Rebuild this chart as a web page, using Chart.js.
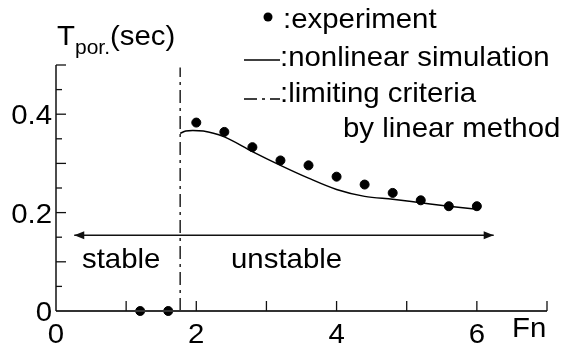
<!DOCTYPE html>
<html>
<head>
<meta charset="utf-8">
<script src="https://cdn.jsdelivr.net/npm/chart.js@4"></script>
<style>
  html, body { margin: 0; padding: 0; background: #fff; }
  #wrap { width: 562px; height: 354px; }
</style>
</head>
<body>
<div id="wrap"><canvas id="chart"></canvas></div>
<script>
// experiment points (Fn, T)
const expFn = [1.2, 1.6, 2.0, 2.4, 2.8, 3.2, 3.6, 4.0, 4.4, 4.8, 5.2, 5.6, 6.0];
const expT = [0, 0, 0.383, 0.364, 0.333, 0.306, 0.296, 0.273, 0.257, 0.240, 0.225, 0.213, 0.213];

// nonlinear simulation curve
const simFn = [1.77, 1.85, 1.95, 2.1, 2.4, 2.8, 3.2, 3.6, 4.0, 4.4, 4.8, 5.2, 5.6, 6.0];
const simT = [0.361, 0.366, 0.367, 0.366, 0.354, 0.324, 0.296, 0.270, 0.247, 0.233, 0.227, 0.220, 0.213, 0.207];

// limiting criteria by linear method
const critFn = [1.77, 1.77];
const critT = [0, 0.495];

// stable / unstable arrow
const arrowFn = [0.26, 6.24];
const arrowT = [0.154, 0.154];

const xTicks = [0, 2, 4, 6];
const xTickLabels = ['0', '2', '4', '6'];
const yTicks = [0, 0.2, 0.4];
const yTickLabels = ['0', '0.2', '0.4'];

const FONT = '"Liberation Sans", Arial, sans-serif';
const SX = 1.05; // the reference text is a bit wide

function pts(xs, ys) {
    let out = [];
    for (let i = 0; i < xs.length; i++) out.push({ x: xs[i], y: ys[i] });
    return out;
}

function txt(ctx, s, x, y, size, align) {
    ctx.save();
    ctx.font = size + 'px ' + FONT;
    let w = ctx.measureText(s).width * SX;
    let x0 = x;
    if (align === 'right') x0 = x - w;
    if (align === 'center') x0 = x - w / 2;
    ctx.translate(x0, y);
    ctx.scale(SX, 1);
    ctx.textAlign = 'left';
    ctx.textBaseline = 'alphabetic';
    ctx.fillStyle = '#000';
    ctx.fillText(s, 0, 0);
    ctx.restore();
    return w;
}

const decor = {
    id: 'decor',
    afterDatasetsDraw(chart) {
        const ctx = chart.ctx;
        const xs = chart.scales.x, ys = chart.scales.y;
        const x0 = xs.getPixelForValue(0), x1 = xs.getPixelForValue(7);
        const y0 = ys.getPixelForValue(0), y1 = ys.getPixelForValue(0.5);
        ctx.save();
        ctx.strokeStyle = '#333';
        ctx.lineWidth = 2;
        ctx.beginPath();
        ctx.moveTo(x0, y0); ctx.lineTo(x1, y0);
        ctx.stroke();
        ctx.lineWidth = 1.5;
        ctx.strokeStyle = '#111';
        ctx.beginPath();
        ctx.moveTo(x0, y0); ctx.lineTo(x0, y1);
        ctx.stroke();
        // x ticks, pointing up
        ctx.lineWidth = 1.3;
        for (let v = 1; v <= 7; v++) {
            let px = xs.getPixelForValue(v);
            ctx.beginPath();
            ctx.moveTo(px, y0); ctx.lineTo(px, y0 - 10);
            ctx.stroke();
        }
        // y ticks, pointing right
        for (let k = 1; k <= 10; k++) {
            let v = k * 0.05;
            let py = ys.getPixelForValue(v);
            let len = (k % 2 === 0) ? 10 : 6;
            ctx.beginPath();
            ctx.moveTo(x0, py); ctx.lineTo(x0 + len, py);
            ctx.stroke();
        }
        // arrow heads
        ctx.fillStyle = '#111';
        let ay = ys.getPixelForValue(arrowT[0]);
        let al = xs.getPixelForValue(arrowFn[0]);
        let ar = xs.getPixelForValue(arrowFn[1]);
        ctx.beginPath();
        ctx.moveTo(al, ay); ctx.lineTo(al + 10, ay - 4); ctx.lineTo(al + 10, ay + 4);
        ctx.closePath(); ctx.fill();
        ctx.beginPath();
        ctx.moveTo(ar, ay); ctx.lineTo(ar - 10, ay - 4); ctx.lineTo(ar - 10, ay + 4);
        ctx.closePath(); ctx.fill();
        ctx.restore();

        // tick labels
        for (let i = 0; i < xTicks.length; i++) {
            txt(ctx, xTickLabels[i], xs.getPixelForValue(xTicks[i]), 343, 28, 'center');
        }
        for (let i = 0; i < yTicks.length; i++) {
            txt(ctx, yTickLabels[i], 52, ys.getPixelForValue(yTicks[i]) + 10, 28, 'right');
        }
        txt(ctx, 'Fn', 512, 337, 28, 'left');

        // axis title with subscript
        let w = txt(ctx, 'T', 57, 45, 28, 'left');
        w += txt(ctx, 'por.', 57 + w, 54, 20, 'left');
        txt(ctx, '(sec)', 57 + w, 45, 28, 'left');

        // stable / unstable
        txt(ctx, 'stable', 82, 268, 28, 'left');
        txt(ctx, 'unstable', 231, 268, 28, 'left');

        // legend
        ctx.save();
        ctx.fillStyle = '#000';
        ctx.beginPath();
        ctx.arc(268, 17, 4.5, 0, Math.PI * 2);
        ctx.fill();
        ctx.strokeStyle = '#000';
        ctx.lineWidth = 1.5;
        ctx.beginPath();
        ctx.moveTo(244, 60); ctx.lineTo(280, 60);
        ctx.stroke();
        ctx.setLineDash([13, 5, 3, 5]);
        ctx.beginPath();
        ctx.moveTo(244, 99); ctx.lineTo(280, 99);
        ctx.stroke();
        ctx.restore();
        txt(ctx, ':experiment', 283, 28, 28, 'left');
        txt(ctx, ':nonlinear simulation', 280, 66, 28, 'left');
        txt(ctx, ':limiting criteria', 280, 102, 28, 'left');
        txt(ctx, 'by linear method', 343, 137, 28, 'left');
    }
};

new Chart(document.getElementById('chart'), {
    type: 'scatter',
    data: {
        datasets: [
            {
                label: 'experiment',
                data: pts(expFn, expT),
                pointRadius: 4.5,
                pointBackgroundColor: '#000',
                pointBorderColor: '#000',
                showLine: false,
                clip: false
            },
            {
                label: 'nonlinear simulation',
                data: pts(simFn, simT),
                showLine: true,
                borderColor: '#000',
                borderWidth: 1.5,
                pointRadius: 0,
                cubicInterpolationMode: 'monotone',
                clip: false
            },
            {
                label: 'limiting criteria',
                data: pts(critFn, critT),
                showLine: true,
                borderColor: '#000',
                borderWidth: 1.3,
                borderDash: [13, 5, 3, 5],
                pointRadius: 0,
                clip: false
            },
            {
                label: 'arrow',
                data: pts(arrowFn, arrowT),
                showLine: true,
                borderColor: '#111',
                borderWidth: 1.5,
                pointRadius: 0,
                clip: false
            }
        ]
    },
    options: {
        responsive: true,
        maintainAspectRatio: false,
        animation: false,
        layout: { padding: { left: 56, right: 15, top: 65, bottom: 43 } },
        plugins: { legend: { display: false }, tooltip: { enabled: false } },
        scales: {
            x: { type: 'linear', min: 0, max: 7, display: false },
            y: { type: 'linear', min: 0, max: 0.5, display: false }
        }
    },
    plugins: [decor]
});
</script>
</body>
</html>
